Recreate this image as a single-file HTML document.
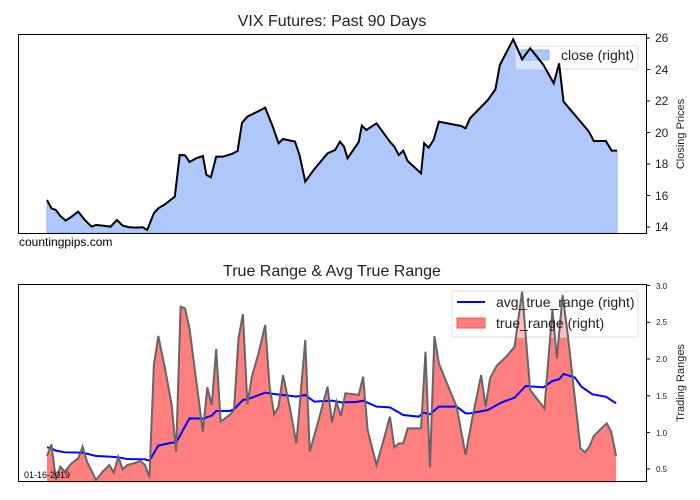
<!DOCTYPE html>
<html><head><meta charset="utf-8"><style>
body{margin:0;background:#fff}
svg{display:block;font-family:"Liberation Sans",sans-serif}
</style></head><body>
<svg width="700" height="500" viewBox="0 0 700 500" xmlns="http://www.w3.org/2000/svg">
<text x="332" y="26" font-size="16" text-anchor="middle" fill="#222">VIX Futures: Past 90 Days</text>
<g transform="matrix(0.4453 0 0 0.3333 0.24 0)">
<polygon fill="#aec8fc" stroke="#8fb0f5" vector-effect="non-scaling-stroke" points="105,699 105,600 115,625 125,630 135,648 147,662 160,650 175,635 190,660 205,680 215,675 230,677 248,680 262,660 275,677 290,682 305,683 320,682 330,690 345,640 355,625 370,613 392,590 403,465 415,466 425,486 440,475 455,468 463,525 473,532 485,470 500,470 520,462 533,453 543,368 555,350 570,340 595,323 612,380 625,430 635,417 662,425 672,465 685,545 705,508 735,460 752,450 763,425 772,440 780,475 805,426 812,377 822,390 845,370 875,425 885,440 895,465 905,452 915,483 945,520 952,430 962,443 973,420 985,365 1035,378 1045,385 1055,355 1095,300 1112,268 1122,195 1152,118 1172,178 1190,145 1220,195 1243,250 1255,190 1265,305 1300,360 1322,395 1333,423 1360,423 1373,452 1385,452 1385,699"/>
</g>
<rect x="516" y="46" width="122" height="23" fill="#fff" fill-opacity="0.5" stroke="#ddd" rx="2"/>
<rect x="521" y="50" width="28" height="10" fill="#aec8fc" stroke="#8fb0f5"/>
<g transform="matrix(0.4453 0 0 0.3333 0.24 0)">
<polyline fill="none" stroke="#000" stroke-width="2" vector-effect="non-scaling-stroke" points="105,600 115,625 125,630 135,648 147,662 160,650 175,635 190,660 205,680 215,675 230,677 248,680 262,660 275,677 290,682 305,683 320,682 330,690 345,640 355,625 370,613 392,590 403,465 415,466 425,486 440,475 455,468 463,525 473,532 485,470 500,470 520,462 533,453 543,368 555,350 570,340 595,323 612,380 625,430 635,417 662,425 672,465 685,545 705,508 735,460 752,450 763,425 772,440 780,475 805,426 812,377 822,390 845,370 875,425 885,440 895,465 905,452 915,483 945,520 952,430 962,443 973,420 985,365 1035,378 1045,385 1055,355 1095,300 1112,268 1122,195 1152,118 1172,178 1190,145 1220,195 1243,250 1255,190 1265,305 1300,360 1322,395 1333,423 1360,423 1373,452 1385,452"/>
</g>
<text x="561" y="60" font-size="14" fill="#222">close (right)</text>
<rect x="18.5" y="34.5" width="628" height="199" fill="none" stroke="#000" stroke-width="1"/>
<g font-size="12" fill="#222">
<line x1="646" x2="650" y1="38" y2="38" stroke="#000"/><text x="655" y="42">26</text>
<line x1="646" x2="650" y1="69.5" y2="69.5" stroke="#000"/><text x="655" y="74">24</text>
<line x1="646" x2="650" y1="101" y2="101" stroke="#000"/><text x="655" y="105">22</text>
<line x1="646" x2="650" y1="132.5" y2="132.5" stroke="#000"/><text x="655" y="137">20</text>
<line x1="646" x2="650" y1="164" y2="164" stroke="#000"/><text x="655" y="168">18</text>
<line x1="646" x2="650" y1="195.5" y2="195.5" stroke="#000"/><text x="655" y="200">16</text>
<line x1="646" x2="650" y1="227" y2="227" stroke="#000"/><text x="655" y="231">14</text>
</g>
<text transform="translate(684,134) rotate(-90)" font-size="11" text-anchor="middle" fill="#222">Closing Prices</text>
<text x="19" y="246" font-size="12" fill="#000">countingpips.com</text>

<text x="332" y="276" font-size="16" text-anchor="middle" fill="#222">True Range &amp; Avg True Range</text>
<g transform="matrix(0.4453 0 0 0.3333 0.24 250)">
<polygon fill="#ff7f7f" stroke="none" points="105,697 105,618 115,583 125,690 135,650 145,665 160,640 175,625 185,590 195,635 215,690 230,665 245,645 255,668 265,620 275,658 285,645 300,640 315,633 325,645 335,682 345,345 355,258 370,355 385,465 395,605 405,170 415,175 425,235 455,545 465,412 475,465 485,297 495,515 515,495 525,480 535,265 545,192 555,463 565,380 580,310 595,225 605,410 615,493 625,470 635,375 650,470 665,580 685,270 695,605 715,510 735,410 745,518 755,455 765,498 775,430 790,432 805,435 815,380 825,540 845,645 860,575 875,500 885,592 895,580 905,580 915,535 945,535 955,305 965,652 975,258 985,340 1000,390 1025,470 1045,615 1060,505 1080,375 1090,470 1100,385 1115,347 1135,322 1155,290 1172,125 1190,420 1222,475 1240,180 1250,325 1263,135 1275,260 1303,595 1313,607 1323,590 1333,558 1350,535 1362,520 1372,545 1383,618 1383,697"/>
</g>
<rect x="452" y="291" width="186" height="46" fill="#fff" fill-opacity="0.5" stroke="#ddd" rx="2"/>
<g transform="matrix(0.4453 0 0 0.3333 0.24 250)">
<polyline fill="none" stroke="#0000ff" stroke-width="2" vector-effect="non-scaling-stroke" points="105,592 115,595 125,602 145,607 185,608 215,618 245,620 265,622 285,627 325,628 335,632 355,587 385,578 395,578 425,505 455,506 475,497 485,483 515,483 525,478 545,450 555,448 595,428 615,432 635,435 665,440 685,435 705,455 745,452 765,457 800,456 815,452 845,470 875,472 905,495 940,500 950,488 965,493 985,470 1025,470 1045,490 1055,490 1095,480 1125,458 1155,443 1180,408 1220,412 1240,393 1255,388 1265,372 1290,382 1305,410 1330,433 1360,440 1383,460"/>
<polyline fill="none" stroke="#666" stroke-width="2" vector-effect="non-scaling-stroke" points="105,618 115,583 125,690 135,650 145,665 160,640 175,625 185,590 195,635 215,690 230,665 245,645 255,668 265,620 275,658 285,645 300,640 315,633 325,645 335,682 345,345 355,258 370,355 385,465 395,605 405,170 415,175 425,235 455,545 465,412 475,465 485,297 495,515 515,495 525,480 535,265 545,192 555,463 565,380 580,310 595,225 605,410 615,493 625,470 635,375 650,470 665,580 685,270 695,605 715,510 735,410 745,518 755,455 765,498 775,430 790,432 805,435 815,380 825,540 845,645 860,575 875,500 885,592 895,580 905,580 915,535 945,535 955,305 965,652 975,258 985,340 1000,390 1025,470 1045,615 1060,505 1080,375 1090,470 1100,385 1115,347 1135,322 1155,290 1172,125 1190,420 1222,475 1240,180 1250,325 1263,135 1275,260 1303,595 1313,607 1323,590 1333,558 1350,535 1362,520 1372,545 1383,618"/>
</g>
<rect x="18.5" y="284.5" width="628" height="197" fill="none" stroke="#000" stroke-width="1"/>
<line x1="457" x2="485" y1="302" y2="302" stroke="#0000ff" stroke-width="2"/>
<text x="496" y="307" font-size="14" fill="#222">avg_true_range (right)</text>
<rect x="457" y="318" width="28" height="10" fill="#ff7f7f" stroke="#ff5050"/>
<text x="496" y="328" font-size="14" fill="#222">true_range (right)</text>
<g font-size="8" fill="#222">
<line x1="646" x2="650" y1="285.5" y2="285.5" stroke="#000"/><text x="656" y="289">3.0</text>
<line x1="646" x2="650" y1="322.3" y2="322.3" stroke="#000"/><text x="656" y="325">2.5</text>
<line x1="646" x2="650" y1="359" y2="359" stroke="#000"/><text x="656" y="362">2.0</text>
<line x1="646" x2="650" y1="395.8" y2="395.8" stroke="#000"/><text x="656" y="399">1.5</text>
<line x1="646" x2="650" y1="432.6" y2="432.6" stroke="#000"/><text x="656" y="436">1.0</text>
<line x1="646" x2="650" y1="469" y2="469" stroke="#000"/><text x="656" y="472">0.5</text>
</g>
<text transform="translate(684,383) rotate(-90)" font-size="11" text-anchor="middle" fill="#222">Trading Ranges</text>
<text x="24" y="478" font-size="9" fill="#000">01-16-2019</text>
</svg>
</body></html>
